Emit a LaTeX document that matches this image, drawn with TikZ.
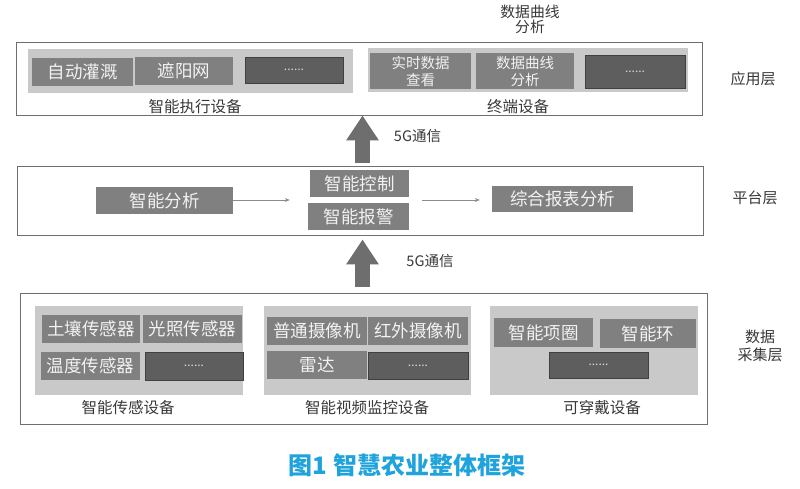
\documentclass[tikz,border=0pt]{standalone}
\usepackage{fontspec}
\setmainfont{Noto Sans CJK SC}
\usetikzlibrary{arrows.meta,calc}
\definecolor{framec}{HTML}{6E6E6E}
\definecolor{panelc}{HTML}{C9C9C9}
\definecolor{boxc}{HTML}{808080}
\definecolor{dotc}{HTML}{5E5E5E}
\definecolor{dotb}{HTML}{404040}
\definecolor{labc}{HTML}{383838}
\definecolor{arrc}{HTML}{6E6E6E}
\definecolor{capc}{HTML}{1FA3DC}
\begin{document}
\begin{tikzpicture}[x=1pt,y=-1pt,
  frame/.style={draw=framec,line width=0.9pt,fill=white,inner sep=0pt},
  panel/.style={fill=panelc,inner sep=0pt},
  gbox/.style={fill=boxc,inner sep=0pt,text=white!95!black,font=\fontsize{17.5}{20}\selectfont},
  gboxs/.style={fill=boxc,inner sep=0pt,text=white!95!black,align=center,font=\fontsize{14.5}{17}\selectfont},
  dbox/.style={fill=dotc,draw=dotb,line width=0.6pt,inner sep=0pt,text=white!85!black,font=\fontsize{12}{14}\selectfont},
  lab/.style={text=labc,inner sep=0pt,font=\fontsize{15.5}{18}\selectfont},
  layer/.style={text=labc,inner sep=0pt,align=center,font=\fontsize{15}{18}\selectfont},
  bigarr/.style={draw=arrc,line width=15pt,-{Triangle[width=31pt,length=25pt]}},
  thinarr/.style={draw=gray!90,line width=0.8pt,-{Stealth[length=5pt,width=4pt]}},
  comm/.style={text=labc,inner sep=0pt,font=\fontsize{14.5}{17}\selectfont}]
\useasboundingbox (0,0) rectangle (800,488);
\fill[white] (0,0) rectangle (800,488);

% ---------- application layer ----------
\node[frame,minimum width=686,minimum height=73] (appframe) at (359,78.5) {};
\node[panel,minimum width=325,minimum height=44] (apL) at (190.5,71) {};
\node[gbox,minimum width=101,minimum height=28] (irr) at (82.5,72) {自动灌溉};
\node[gbox,minimum width=98,minimum height=28] (shade) at (184,71) {遮阳网};
\node[dbox,minimum width=98,minimum height=26] (dots1) at (294,70) {......};
\node[lab] (labexec) at (195,107) {智能执行设备};
\node[panel,minimum width=320,minimum height=44] (apR) at (528,70) {};
\node[gboxs,minimum width=101,minimum height=36] (rt) at (420.5,71) {实时数据\\查看};
\node[gboxs,minimum width=98,minimum height=36] (curve) at (525,71) {数据曲线\\分析};
\node[dbox,minimum width=100,minimum height=33] (dots2) at (635,71.5) {......};
\node[lab] (labterm) at (518,107) {终端设备};
\node[layer,font=\fontsize{14.8}{15}\selectfont] (topcurve) at (530,19.5) {数据曲线\\分析};
\node[layer] (lay1) at (753,79) {应用层};

% ---------- platform layer ----------
\node[frame,minimum width=686,minimum height=69] (platframe) at (360,200.5) {};
\node[gbox,minimum width=137,minimum height=27] (fenxi) at (164.5,200.5) {智能分析};
\node[gbox,minimum width=99,minimum height=27] (kongzhi) at (359.5,183.5) {智能控制};
\node[gbox,minimum width=101,minimum height=27] (baojing) at (358.5,216.5) {智能报警};
\node[gbox,minimum width=141,minimum height=26] (zonghe) at (562.5,199) {综合报表分析};
\node[layer] (lay2) at (755,198) {平台层};
\coordinate (midL) at (baojing.north west |- 0,200);
\coordinate (midR) at (kongzhi.south east |- 0,200);
\draw[thinarr,shorten >=18pt] (fenxi.east |- 0,200) -- (midL);
\draw[thinarr,shorten <=13pt,shorten >=12pt] (midR) -- (zonghe.west |- 0,200);

% ---------- data layer ----------
\node[frame,minimum width=687,minimum height=131] (dataframe) at (363.5,358.5) {};
\node[panel,minimum width=208,minimum height=89] (p1) at (139,350.5) {};
\node[gbox,minimum width=98,minimum height=28] (soil) at (91,329) {土壤传感器};
\node[gbox,minimum width=99,minimum height=28] (light) at (192.5,329) {光照传感器};
\node[gbox,minimum width=99,minimum height=28] (temp) at (90.5,366) {温度传感器};
\node[dbox,minimum width=98,minimum height=28] (dots3) at (194,366) {......};
\node[lab] (labsens) at (128,408) {智能传感设备};
\node[panel,minimum width=207,minimum height=89] (p2) at (367.5,350.5) {};
\node[gbox,minimum width=100,minimum height=28] (cam) at (317,331) {普通摄像机};
\node[gbox,minimum width=100,minimum height=28] (ircam) at (418,331) {红外摄像机};
\node[gbox,minimum width=100,minimum height=28] (radar) at (317,365) {雷达};
\node[dbox,minimum width=100,minimum height=27] (dots4) at (418,365.5) {......};
\node[lab] (labvideo) at (367,408) {智能视频监控设备};
\node[panel,minimum width=208,minimum height=89] (p3) at (594,350.5) {};
\node[gbox,minimum width=99,minimum height=29] (collar) at (543.5,332.5) {智能项圈};
\node[gbox,minimum width=96,minimum height=29] (ring) at (648,333.5) {智能环};
\node[dbox,minimum width=99,minimum height=26] (dots5) at (598.5,365) {......};
\node[lab] (labwear) at (602,408) {可穿戴设备};
\node[layer] (lay3) at (760,346) {数据\\采集层};

% ---------- 5G arrows ----------
\coordinate (ax) at (362.5,0);
\draw[bigarr,shorten <=3pt] (platframe.north -| ax) -- (appframe.south -| ax);
\draw[bigarr,shorten <=6pt,shorten >=4pt] (dataframe.north -| ax) -- (platframe.south -| ax);
\node[comm] (g1) at (417.5,136) {5G通信};
\node[comm] (g2) at (430,261) {5G通信};

% ---------- caption ----------
\node[text=capc,inner sep=0pt,font=\fontsize{24}{28}\selectfont\bfseries] (cap) at (407,465) {图1 智慧农业整体框架};
\end{tikzpicture}
\end{document}
